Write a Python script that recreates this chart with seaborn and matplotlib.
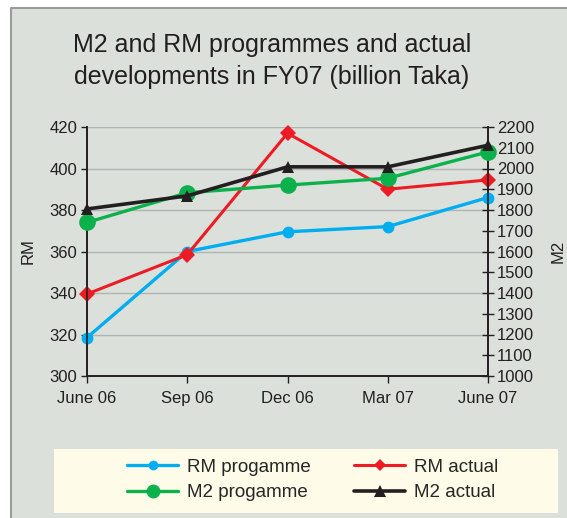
import matplotlib
matplotlib.use("Agg")
import matplotlib.pyplot as plt
import seaborn as sns
import pandas as pd
from matplotlib.patches import Rectangle
from matplotlib.lines import Line2D

periods = ["June 06", "Sep 06", "Dec 06", "Mar 07", "June 07"]
rm_programme = [318.5, 360, 369.5, 372, 386]
rm_actual = [339.5, 358.5, 417, 390, 394.5]
m2_programme = [1740, 1883, 1920, 1953, 2080]
m2_actual = [1805, 1868, 2008, 2008, 2112]

df = pd.DataFrame({
    "period": periods,
    "idx": range(len(periods)),
    "RM progamme": rm_programme,
    "RM actual": rm_actual,
    "M2 progamme": m2_programme,
    "M2 actual": m2_actual,
})

sns.set_theme(style="white")
plt.rcParams["font.family"] = ["Liberation Sans", "DejaVu Sans"]

bg = "#dbe0db"
c_blue = "#00aeef"
c_red = "#ed1c24"
c_green = "#0db14b"
c_black = "#231f20"

fig = plt.figure(figsize=(5.67, 5.18), dpi=100)
fig.patch.set_facecolor("white")

# grey panel with border
fig.add_artist(Rectangle((11 / 567, 0), 1, 1 - 8 / 518,
                         transform=fig.transFigure, facecolor=bg,
                         edgecolor="none", zorder=0))
fig.add_artist(Line2D([11 / 567, 11 / 567, 1], [0, 1 - 8 / 518, 1 - 8 / 518],
                      transform=fig.transFigure, color="#999c99", lw=1.5, zorder=1))
# legend box
fig.add_artist(Rectangle((54 / 567, 1 - 513 / 518), (558 - 54) / 567, 64 / 518,
                         transform=fig.transFigure, facecolor="#fefbe8",
                         edgecolor="none", zorder=1))

ax = fig.add_axes([87 / 567, 1 - 376 / 518, (488 - 87) / 567, (376 - 127) / 518])
ax.set_facecolor("none")
ax2 = ax.twinx()

sns.lineplot(data=df, x="idx", y="RM progamme", ax=ax, color=c_blue, lw=2.4,
             marker="o", markersize=8.5, markeredgewidth=0, clip_on=False, zorder=3)
sns.lineplot(data=df, x="idx", y="RM actual", ax=ax, color=c_red, lw=2.2,
             marker="D", markersize=8.5, markeredgewidth=0, clip_on=False, zorder=3)
sns.lineplot(data=df, x="idx", y="M2 progamme", ax=ax2, color=c_green, lw=2.4,
             marker="o", markersize=12, markeredgewidth=0, clip_on=False, zorder=3)
sns.lineplot(data=df, x="idx", y="M2 actual", ax=ax2, color=c_black, lw=2.6,
             marker="^", markersize=8, markeredgewidth=0, clip_on=False, zorder=4)

ax.set_xlim(0, len(periods) - 1)
ax.set_ylim(300, 420)
ax2.set_ylim(1000, 2200)
ax.set_yticks(range(300, 421, 20))
ax2.set_yticks(range(1000, 2201, 100))
ax.set_xticks(range(len(periods)))
ax.set_xticklabels(periods)

ax.grid(axis="y", color="#b0b4b4", lw=1)
ax.set_axisbelow(True)

for a in (ax, ax2):
    a.spines["top"].set_visible(False)
    for s in ("left", "right", "bottom"):
        a.spines[s].set_color("#231f20")
        a.spines[s].set_linewidth(1.2)

ax.tick_params(axis="y", direction="out", length=4, width=1, labelsize=12,
               left=True, colors="#231f20", pad=3)
ax.tick_params(axis="x", direction="out", length=5, width=1, labelsize=12,
               bottom=True, colors="#231f20", pad=6)
ax2.tick_params(axis="y", direction="inout", length=9, width=1, labelsize=12,
                right=True, colors="#231f20", pad=2)

ax.set_xlabel("")
ax.set_ylabel("RM", fontsize=12, color="#231f20", labelpad=10)
ax2.set_ylabel("M2", fontsize=12, color="#231f20", labelpad=12)

fig.text(272 / 567, 1 - 61 / 518, "M2 and RM programmes and actual\ndevelopments in FY07 (billion Taka)",
         ha="center", va="center", fontsize=18, color="#231f20", linespacing=1.4)

handles = [
    Line2D([], [], color=c_blue, lw=2.4, marker="o", markersize=7, markeredgewidth=0),
    Line2D([], [], color=c_green, lw=2.4, marker="o", markersize=10, markeredgewidth=0),
    Line2D([], [], color=c_red, lw=2.2, marker="D", markersize=6, markeredgewidth=0),
    Line2D([], [], color=c_black, lw=2.6, marker="^", markersize=8, markeredgewidth=0),
]
labels = ["RM progamme", "M2 progamme", "RM actual", "M2 actual"]
fig.legend(handles, labels, ncol=2, frameon=False, fontsize=13.5,
           loc="center", bbox_to_anchor=(313 / 567, 1 - 480 / 518),
           handlelength=2.7, columnspacing=2.3, labelspacing=0.45, handletextpad=0.5)

fig.savefig("out.png", dpi=100)
